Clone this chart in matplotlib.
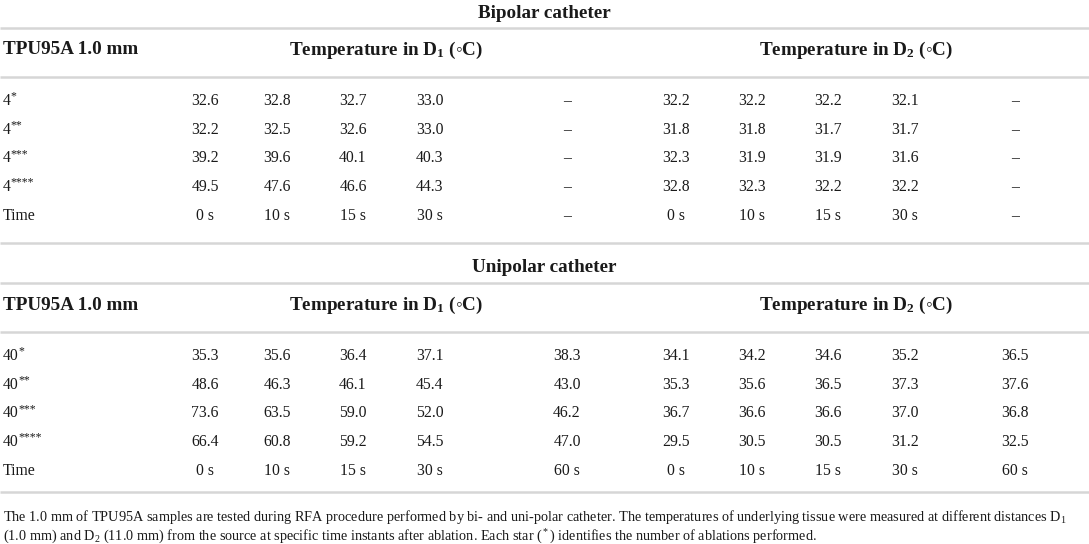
import matplotlib.pyplot as plt

plt.rcParams["font.family"] = ["Liberation Serif", "DejaVu Serif"]
plt.rcParams["mathtext.fontset"] = "custom"
plt.rcParams["mathtext.rm"] = "Liberation Serif"
plt.rcParams["mathtext.it"] = "Liberation Serif:italic"
plt.rcParams["mathtext.bf"] = "Liberation Serif:bold"

OUTPUT_FILENAME = "out.png"

# Table content
material = "TPU95A 1.0 mm"
d1_header = "Temperature in D$_\\mathbf{1}$ (\u25e6C)"
d2_header = "Temperature in D$_\\mathbf{2}$ (\u25e6C)"

bipolar_rows = ["4", "4", "4", "4"]
bipolar_stars = [1, 2, 3, 4]
bipolar_d1 = [
    ["32.6", "32.8", "32.7", "33.0", "–"],
    ["32.2", "32.5", "32.6", "33.0", "–"],
    ["39.2", "39.6", "40.1", "40.3", "–"],
    ["49.5", "47.6", "46.6", "44.3", "–"],
]
bipolar_d2 = [
    ["32.2", "32.2", "32.2", "32.1", "–"],
    ["31.8", "31.8", "31.7", "31.7", "–"],
    ["32.3", "31.9", "31.9", "31.6", "–"],
    ["32.8", "32.3", "32.2", "32.2", "–"],
]
bipolar_times = ["0 s", "10 s", "15 s", "30 s", "–"]

unipolar_rows = ["40", "40", "40", "40"]
unipolar_stars = [1, 2, 3, 4]
unipolar_d1 = [
    ["35.3", "35.6", "36.4", "37.1", "38.3"],
    ["48.6", "46.3", "46.1", "45.4", "43.0"],
    ["73.6", "63.5", "59.0", "52.0", "46.2"],
    ["66.4", "60.8", "59.2", "54.5", "47.0"],
]
unipolar_d2 = [
    ["34.1", "34.2", "34.6", "35.2", "36.5"],
    ["35.3", "35.6", "36.5", "37.3", "37.6"],
    ["36.7", "36.6", "36.6", "37.0", "36.8"],
    ["29.5", "30.5", "30.5", "31.2", "32.5"],
]
unipolar_times = ["0 s", "10 s", "15 s", "30 s", "60 s"]

caption_lines = [
    "The 1.0 mm of TPU95A samples are tested during RFA procedure performed by bi- and uni-polar "
    "catheter. The temperatures of underlying tissue were measured at different distances D$_1$",
    "(1.0 mm) and D$_2$ (11.0 mm) from the source at specific time instants after ablation. "
    "Each star ($^*$) identifies the number of ablations performed.",
]

# Layout (pixel coordinates)
COL_X = [205, 277, 353, 430, 567, 676, 752, 828, 905, 1015]
LINE_COLOR = "#d6d6d6"
BODY_SIZE = 11.3
HEAD_SIZE = 13.8
TEXT_COLOR = "#1a1a1a"


def hline(ax, y):
    ax.plot([0, 1089], [y, y], color=LINE_COLOR, lw=1.8, solid_capstyle="butt")


def draw_block(ax, top, title, labels, stars, d1, d2, times):
    ax.text(544, top + 1, title, ha="center", va="center", fontsize=HEAD_SIZE,
            fontweight="bold", color=TEXT_COLOR)
    hline(ax, top + 16)
    ax.text(3, top + 38, material, ha="left", va="center", fontsize=HEAD_SIZE,
            fontweight="bold", color=TEXT_COLOR)
    ax.text((COL_X[0] + COL_X[4]) / 2, top + 38, d1_header, ha="center", va="center",
            fontsize=HEAD_SIZE, fontweight="bold", color=TEXT_COLOR)
    ax.text((COL_X[5] + COL_X[9]) / 2 + 11, top + 38, d2_header, ha="center", va="center",
            fontsize=HEAD_SIZE, fontweight="bold", color=TEXT_COLOR)
    hline(ax, top + 65)
    row_y = top + 89
    step = 28.7
    for i, (lab, n) in enumerate(zip(labels, stars)):
        y = row_y + i * step
        t = ax.text(3, y, lab, ha="left", va="center", fontsize=BODY_SIZE, color=TEXT_COLOR)
        ax.annotate("*" * n, xy=(1.0, 0.4), xycoords=t, ha="left", va="bottom",
                    fontsize=8.5, color=TEXT_COLOR)
        for x, v in zip(COL_X, d1[i] + d2[i]):
            ax.text(x, y, v, ha="center", va="center", fontsize=BODY_SIZE, color=TEXT_COLOR)
    y = row_y + len(labels) * step
    ax.text(3, y, "Time", ha="left", va="center", fontsize=BODY_SIZE, color=TEXT_COLOR)
    for x, v in zip(COL_X, times + times):
        ax.text(x, y, v, ha="center", va="center", fontsize=BODY_SIZE, color=TEXT_COLOR)


def main() -> None:
    fig = plt.figure(figsize=(10.89, 5.44), dpi=100)
    ax = fig.add_axes([0, 0, 1, 1])
    ax.set_xlim(0, 1089)
    ax.set_ylim(544, 0)
    ax.axis("off")

    draw_block(ax, 12, "Bipolar catheter", bipolar_rows, bipolar_stars,
               bipolar_d1, bipolar_d2, bipolar_times)
    hline(ax, 243)
    draw_block(ax, 267, "Unipolar catheter", unipolar_rows, unipolar_stars,
               unipolar_d1, unipolar_d2, unipolar_times)
    hline(ax, 492)

    for i, line in enumerate(caption_lines):
        ax.text(3, 517 + i * 20, line, ha="left", va="center", fontsize=10.3,
                color=TEXT_COLOR)

    fig.savefig(OUTPUT_FILENAME, dpi=100)


if __name__ == "__main__":
    main()
